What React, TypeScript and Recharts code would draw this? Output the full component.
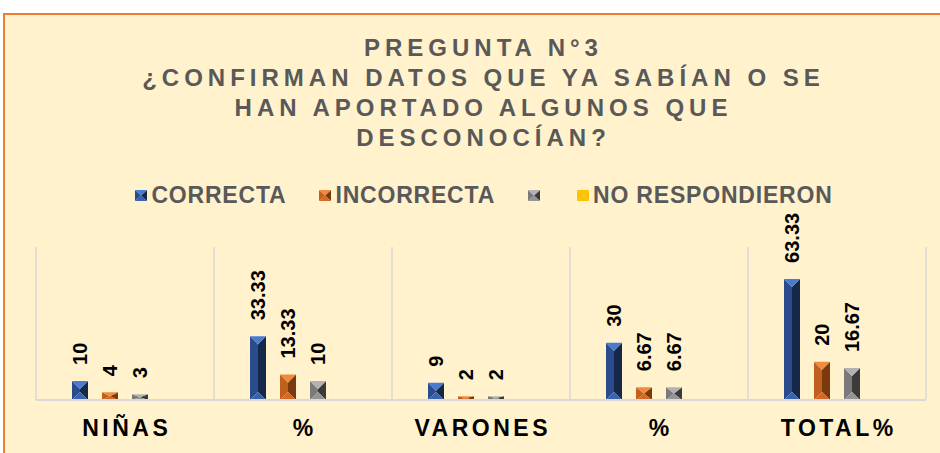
import React from 'react';
import { BarChart, Bar, XAxis, YAxis, CartesianGrid, Legend, LabelList } from 'recharts';

const categories = ['NIÑAS', '%', 'VARONES', '%', 'TOTAL%'];
const correcta = [10, 33.33, 9, 30, 63.33];
const incorrecta = [4, 13.33, 2, 6.67, 20];
const sinNombre = [3, 10, 2, 6.67, 16.67];
const noRespondieron = [null, null, null, null, null];
const seriesKeys = ['correcta', 'incorrecta', 'sinNombre', 'noRespondieron'];
const seriesNames = ['CORRECTA', 'INCORRECTA', '', 'NO RESPONDIERON'];
const titleLines = [
    'PREGUNTA N°3',
    '¿CONFIRMAN DATOS QUE YA SABÍAN O SE',
    'HAN APORTADO ALGUNOS QUE',
    'DESCONOCÍAN?',
];

const data = categories.map((cat, i) => ({
    cat,
    correcta: correcta[i],
    incorrecta: incorrecta[i],
    sinNombre: sinNombre[i],
    noRespondieron: noRespondieron[i],
}));

type Pal = { top: string; bottom: string; left: string; right: string };

const palettes: Pal[] = [
    { top: '#4A7BD0', bottom: '#3A63AE', left: '#2B4C8C', right: '#16284A' },
    { top: '#F08A3E', bottom: '#D46A22', left: '#C0601E', right: '#7A3A0E' },
    { top: '#B2B2B2', bottom: '#949494', left: '#7A7A7A', right: '#3A3A3A' },
    { top: '#FFC000', bottom: '#FFC000', left: '#FFC000', right: '#FFC000' },
];

const font = 'Arial, "Liberation Sans", sans-serif';

const Bevel = ({ x, y, width, height, pal }: { x: number; y: number; width: number; height: number; pal: Pal }) => {
    if (!height || height <= 0) return null;
    const w = width;
    const h = height;
    const b = Math.min(w / 2, h / 2);
    const pts = (arr: number[][]) => arr.map((p) => p.join(',')).join(' ');
    return (
        <g>
            <polygon points={pts([[x, y], [x + w / 2, y + b], [x + w / 2, y + h - b], [x, y + h]])} fill={pal.left} />
            <polygon points={pts([[x + w, y], [x + w / 2, y + b], [x + w / 2, y + h - b], [x + w, y + h]])} fill={pal.right} />
            <polygon points={pts([[x, y], [x + w, y], [x + w / 2, y + b]])} fill={pal.top} />
            <polygon points={pts([[x, y + h], [x + w, y + h], [x + w / 2, y + h - b]])} fill={pal.bottom} />
        </g>
    );
};

const renderLabel = (props: any) => {
    const { x, y, width, value } = props;
    if (value === null || value === undefined) return null;
    const cx = Number(x) + Number(width) / 2;
    const ty = Number(y) - 16;
    return (
        <text
            x={cx}
            y={ty}
            transform={`rotate(-90 ${cx} ${ty})`}
            textAnchor="start"
            dominantBaseline="central"
            fontFamily={font}
            fontSize={20}
            fontWeight="bold"
            fill="#000"
        >
            {value}
        </text>
    );
};

const CatTick = (props: any) => {
    const { x, y, payload } = props;
    return (
        <text x={x + 1.75} y={y + 28} textAnchor="middle" fontFamily={font} fontSize={23} fontWeight="bold" letterSpacing={3.5} fill="#000">
            {payload.value}
        </text>
    );
};

const LegendContent = () => (
    <div style={{ display: 'flex', justifyContent: 'center', alignItems: 'center', fontFamily: font }}>
        {seriesNames.map((name, i) => (
            <div key={seriesKeys[i]} style={{ display: 'flex', alignItems: 'center', marginRight: i === seriesNames.length - 1 ? 0 : 33 }}>
                <svg width={12} height={11} style={{ display: 'block' }}>
                    <Bevel x={0} y={0} width={12} height={11} pal={palettes[i]} />
                </svg>
                <span style={{ marginLeft: 4, fontSize: 23, fontWeight: 'bold', color: '#595959', letterSpacing: 0.8 }}>{name}</span>
            </div>
        ))}
    </div>
);

export default function App() {
    return (
        <div style={{ position: 'fixed', left: 0, top: 0, width: 940, height: 453, overflow: 'hidden', background: '#fff' }}>
            <div
                style={{
                    position: 'absolute',
                    left: 3,
                    top: 13,
                    width: 960,
                    height: 460,
                    border: '2px solid #ED7D31',
                    background: '#FFF2CC',
                }}
            />
            <div
                style={{
                    position: 'absolute',
                    left: 0,
                    top: 33,
                    width: 967,
                    textAlign: 'center',
                    fontFamily: font,
                    fontSize: 24,
                    fontWeight: 'bold',
                    letterSpacing: 5,
                    lineHeight: '30px',
                    color: '#595959',
                }}
            >
                {titleLines.map((t) => (
                    <div key={t}>{t}</div>
                ))}
            </div>
            <div style={{ position: 'absolute', left: 0, top: 0 }}>
                <BarChart
                    width={940}
                    height={453}
                    data={data}
                    margin={{ top: 247, right: 14, bottom: 0, left: 36 }}
                    barSize={16}
                    barGap={14}
                >
                    <CartesianGrid
                        horizontal={false}
                        stroke="#D9D9D9"
                        strokeWidth={1.5}
                        verticalCoordinatesGenerator={({ offset }: any) =>
                            [...categories, ''].map((_, i) => offset.left + (i * offset.width) / categories.length)
                        }
                    />
                    <XAxis
                        dataKey="cat"
                        height={53}
                        tickLine={false}
                        axisLine={{ stroke: '#D9D9D9', strokeWidth: 2 }}
                        tick={<CatTick />}
                        interval={0}
                    />
                    <YAxis hide domain={[0, 80]} />
                    <Legend
                        verticalAlign="middle"
                        align="center"
                        layout="horizontal"
                        content={<LegendContent />}
                        wrapperStyle={{ top: 182, left: 0, width: 968 }}
                    />
                    {seriesKeys.map((k, i) => (
                        <Bar
                            key={k}
                            dataKey={k}
                            name={seriesNames[i] || ' '}
                            fill={palettes[i].top}
                            isAnimationActive={false}
                            shape={(p: any) => <Bevel x={p.x} y={p.y} width={p.width} height={p.height} pal={palettes[i]} />}
                        >
                            <LabelList dataKey={k} content={renderLabel} />
                        </Bar>
                    ))}
                </BarChart>
            </div>
        </div>
    );
}
